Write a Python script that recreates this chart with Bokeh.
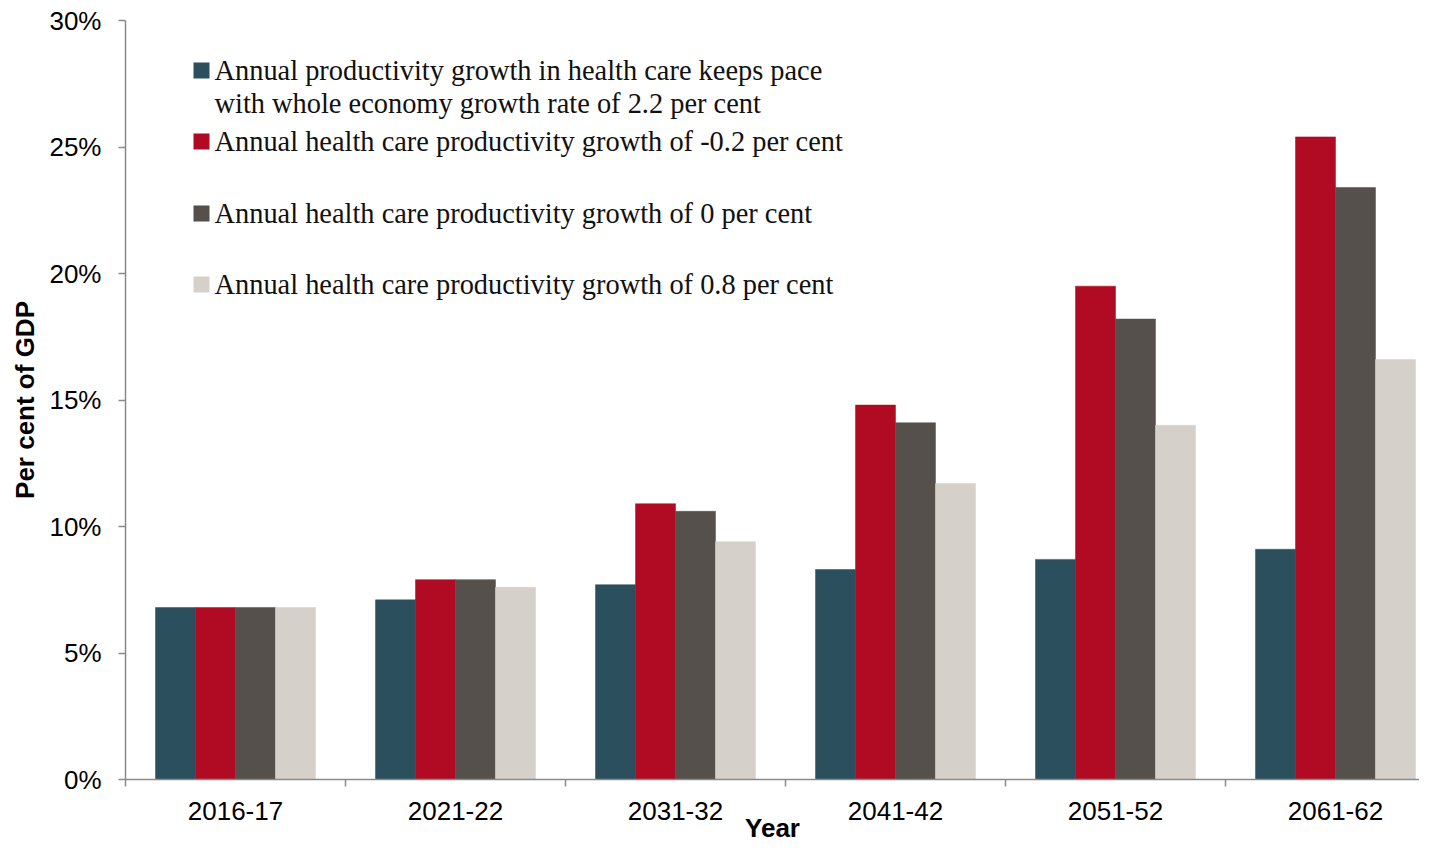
from bokeh.plotting import figure
from bokeh.models import FixedTicker, Label, BoxAnnotation, ColumnDataSource
from bokeh.embed import file_html
from bokeh.resources import INLINE

# ---- data ----
years = ["2016-17", "2021-22", "2031-32", "2041-42", "2051-52", "2061-62"]
keep_pace = [6.8, 7.1, 7.7, 8.3, 8.7, 9.1]
minus_02 = [6.8, 7.9, 10.9, 14.8, 19.5, 25.4]
zero_growth = [6.8, 7.9, 10.6, 14.1, 18.2, 23.4]
plus_08 = [6.8, 7.6, 9.4, 11.7, 14.0, 16.6]
y_ticks = [0, 5, 10, 15, 20, 25, 30]
y_tick_labels = ["0%", "5%", "10%", "15%", "20%", "25%", "30%"]
series_labels = [
    ["Annual productivity growth in health care keeps pace",
     "with whole economy growth rate of 2.2 per cent"],
    ["Annual health care productivity growth of -0.2 per cent"],
    ["Annual health care productivity growth of 0 per cent"],
    ["Annual health care productivity growth of 0.8 per cent"],
]
series_values = [keep_pace, minus_02, zero_growth, plus_08]
colors = ["#2C4F5E", "#B00B23", "#55504B", "#D5D1CA"]

# ---- layout ----
W, H = 1419, 845
LEFT, RIGHT, TOP, BOTTOM = 125, 0, 20, 66
frame_w = W - LEFT - RIGHT
px_per_cat = 220.0
x_start = -0.5
x_end = x_start + frame_w / px_per_cat
bar_w = 40.0 / px_per_cat

p = figure(width=W, height=H, output_backend="svg", toolbar_location=None,
           x_range=(x_start, x_end), y_range=(0, 30),
           min_border_left=LEFT, min_border_right=RIGHT,
           min_border_top=TOP, min_border_bottom=BOTTOM)
p.outline_line_color = None
p.xgrid.visible = False
p.ygrid.visible = False
p.background_fill_color = "white"
p.border_fill_color = "white"

idx = list(range(len(years)))
for k, (vals, col) in enumerate(zip(series_values, colors)):
    src = ColumnDataSource(dict(x=[i + (k - 1.5) * bar_w for i in idx], top=vals))
    p.vbar(x="x", top="top", bottom=0, width=bar_w, source=src,
           fill_color=col, line_color=col, line_width=0.5)

axis_color = "#8a8a8a"
tick_font = "Liberation Sans"

# x axis
xa = p.xaxis[0]
xa.ticker = FixedTicker(ticks=idx, minor_ticks=[i - 0.5 for i in range(len(years) + 1)])
xa.major_label_overrides = {i: years[i] for i in idx}
xa.major_tick_out = 0
xa.major_tick_in = 0
xa.minor_tick_out = 7
xa.minor_tick_in = 0
xa.minor_tick_line_color = axis_color
xa.minor_tick_line_width = 1.5
xa.axis_line_color = axis_color
xa.axis_line_width = 1.5
xa.major_label_text_font = tick_font
xa.major_label_text_font_size = "26px"
xa.major_label_text_color = "black"
xa.major_label_standoff = 15
xa.axis_label = "Year"
xa.axis_label_text_font = tick_font
xa.axis_label_text_font_size = "26px"
xa.axis_label_text_font_style = "bold"
xa.axis_label_text_color = "black"
xa.axis_label_standoff = -10

# y axis
ya = p.yaxis[0]
ya.ticker = FixedTicker(ticks=y_ticks)
ya.major_label_overrides = {t: l for t, l in zip(y_ticks, y_tick_labels)}
ya.major_tick_out = 7
ya.major_tick_in = 0
ya.minor_tick_line_color = None
ya.major_tick_line_color = axis_color
ya.major_tick_line_width = 1.5
ya.axis_line_color = axis_color
ya.axis_line_width = 1.5
ya.major_label_text_font = tick_font
ya.major_label_text_font_size = "26px"
ya.major_label_text_color = "black"
ya.major_label_standoff = 17
ya.axis_label = "Per cent of GDP"
ya.axis_label_text_font = tick_font
ya.axis_label_text_font_size = "26px"
ya.axis_label_text_font_style = "bold"
ya.axis_label_text_color = "black"
ya.axis_label_standoff = 6

# ---- legend (screen units, relative to the plot frame) ----
text_x = 89
sw_left, sw_size = 68, 16
baselines = [701, 630, 558, 487]
text_lift = 8
line_gap = 33
for lines, col, base in zip(series_labels, colors, baselines):
    p.add_layout(BoxAnnotation(left=sw_left, right=sw_left + sw_size,
                               bottom=base, top=base + sw_size,
                               left_units="screen", right_units="screen",
                               bottom_units="screen", top_units="screen",
                               fill_color=col, fill_alpha=1.0, line_color=None))
    for j, txt in enumerate(lines):
        p.add_layout(Label(x=text_x, y=base + text_lift - j * line_gap,
                           x_units="screen", y_units="screen",
                           text=txt, text_font="Liberation Serif", text_font_size="28.4px",
                           text_color="#111111", text_baseline="alphabetic", text_align="left"))

open("out.html", "w").write(file_html(p, INLINE))
